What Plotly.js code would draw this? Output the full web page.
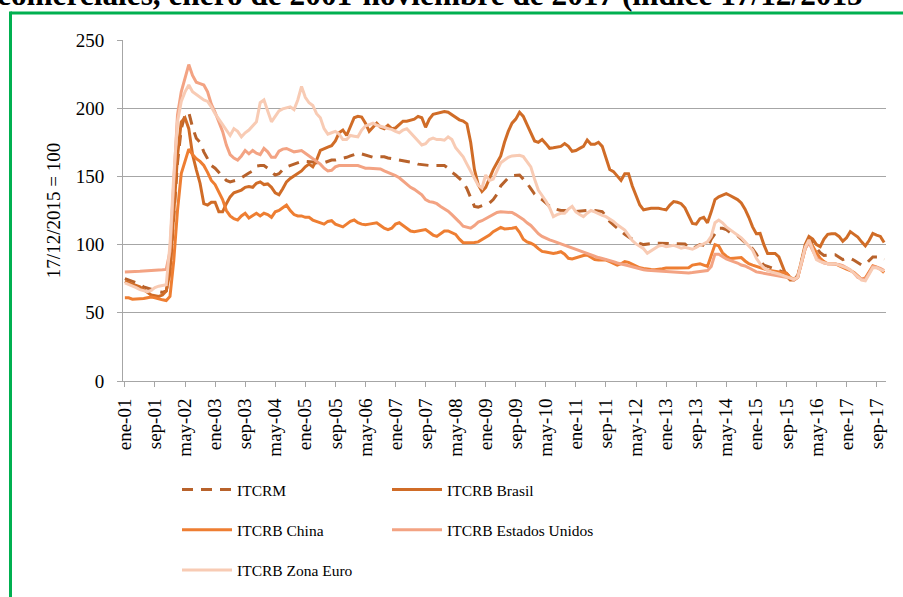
<!DOCTYPE html>
<html><head><meta charset="utf-8">
<script src="https://cdn.plot.ly/plotly-3.0.1.min.js"></script>
<style>html,body{margin:0;padding:0;background:#fff}#chart{width:903px;height:597px}</style>
</head><body><div id="chart"></div>
<script>
const monthNames = ['ene','feb','mar','abr','may','jun','jul','ago','sep','oct','nov','dic'];
const months = [];
for (let y = 1; y <= 17; y++) {
  for (let m = 0; m < 12; m++) {
    if (y === 17 && m > 10) break;
    months.push(monthNames[m] + '-' + String(y).padStart(2, '0'));
  }
}
const tickLabels = ['ene-01','sep-01','may-02','ene-03','sep-03','may-04','ene-05','sep-05','may-06','ene-07','sep-07','may-08','ene-09','sep-09','may-10','ene-11','sep-11','may-12','ene-13','sep-13','may-14','ene-15','sep-15','may-16','ene-17','sep-17'];

const itcrm = [
 75,74,73,72,71,69,68,67,66,65.5,65,66,
 80,120,160,185,195,197,186,178,175,168,163,158,
 156,153,150,147,146,146.5,147.5,149,151,152.5,154,157.5,
 158,158,156,153.5,151,152,155,157,158,159,160,161,
 161,161,160.5,160,159.5,160,161,162,162,162.5,163.4,164,
 165,166,167,166.5,165.5,164.5,164,164.5,164.4,164.4,163.5,163,
 162.5,162,161.5,161,160.6,160,159,158.5,158,158,158,158,
 158,158,156,153,151,148.5,146,141,135,128,127.5,128.5,
 129.5,130.5,133,137,143,146,149,150.5,151,151,148,145,
 141,137,134.5,133,130.5,128,126.5,125.5,125,125,124.5,124.5,
 124.2,124.5,125,125.4,125.4,125,124.5,124.2,121,117,114.4,112,
 109.5,107.5,105.5,104,102,100.9,100,100.5,100.9,101,101,100.9,
 100.9,101,101,100.9,100.9,100.5,98,97.3,98.5,100,99.5,98,
 104,108,112,112,111,109,107,106.5,104,101,99,97,
 93,88,85,84,83,82,81.5,80.5,79,76,75,77,
 87,98,104.7,101,97,94,92,92.5,92.5,92.5,91,89,
 90,90,88.5,87,85,85.5,88.5,91,91,91,89
];
const brasil = [
 73,72,71,70,69,67,65,63,62.5,62,63,66,
 80,125,165,190,193,185,166,155,145,130,129,131,
 131,124,124,130,135,138,139,140,142,142.5,142,145,
 146,144,144.5,142,138,136.5,141,146,148.5,150.5,152,154,
 157,159,157,162,169,170.5,171.5,172.5,176,182,184,180,
 186,193,194,193.5,189,183,186,189,186,185,187.5,185,
 185.5,188,190.5,190.5,191.5,192,194,193,186,192,195.5,196,
 196.5,197.5,197,195,193,191.5,190.5,188.5,175,155,144,139,
 142,149,155,160,165,175,183,189,192,197,194,188,
 182,176,175,177,174,170.6,171,171.5,172,174,172,168.4,
 169,170.5,172,176.7,173.5,173.5,175,172,163,155,153.5,150,
 147,152,152,143,136,129,125.5,126.3,126.6,126.6,126.6,126,
 125.5,129,131.5,131,130,127,121,115.5,115,119,120,116,
 124,133,135,136,137.4,136,134.5,133,130.5,126,120,113,
 108,108.2,100,93.5,93.5,93.5,91,84,77,74,74,76,
 88,100,106,104,100,98.5,104,107.5,108,108,106,102.5,
 105,109.5,107.5,105.5,102,99,103,108.2,107,106,101.5
];
const china = [
 61,61,60,60,60,60.5,61,61.5,61,60,59.5,59,
 62,88,125,152,161,170,166,163,161,158,153,147,
 144,139,133,125,121,119,118,121,123,119.5,121,123,
 121,123,122,120,124,125,127,129,125,122,121,121,
 120,120,118,117,115.5,115,117,117.5,115,114,113,115,
 117,118,116,115,114.5,115,115.5,116,114,112,111,112,
 115,116,114,112,110,109.5,110,111,111,109,107,106,
 108,110,110,108.5,107.5,104,101.4,101.4,101.4,101.5,102,103.5,
 105,107,109.5,111,112.6,111.5,111.5,112,112.6,109,104,102,
 101,99.5,97,95,94.5,94,93.5,94,94.8,93,90,89.5,
 90.5,91,92,92.4,91,89,88.7,88.7,88.7,87.5,86,85,
 86,87.5,87,85.5,84,83,82.5,82,81.8,81.6,81.8,82.3,
 82.8,83,82.8,82.8,83,82.8,83,85,85.5,86,85,84,
 92,100,99,94,91.5,89.8,90,90.5,90.5,88,86,85,
 84,83,82,81.3,80.8,80.3,80,79.5,79,76,74.5,76,
 86,97,103,99,94,90,87.5,86,86,86,84.5,83,
 82,81,79.5,77,74.5,75.5,80,84.5,83.5,82,79.5
];
const estadosUnidos = [
 80,80,80,80.3,80.5,80.7,81,81,81.2,81.4,81.5,81.8,
 95,150,195,212,222,232,224,219,218,217,212,203,
 197,190,183,173,166,163.4,162,165,169,166.6,169,167,
 166,170.5,168,164,164,168.5,170,170.5,169,168,168.5,169,
 167,165,163,161,159,156,154,154.5,157,158,158,157.5,
 157.5,158,158,157,156,156,156,156,155.5,154,153,151.5,
 150.5,149,146.5,144,142,140.5,138.5,136.5,133,131.5,131,130,
 128,126.5,124.5,122,119.5,116.5,113.5,112.5,112,114,116.5,117.5,
 119,120,122,123.5,124,124,123.5,123.5,122,120.5,118.5,116,
 114,111,108,106,104.5,103.4,102.5,101.5,100.5,99,98,97,
 96,95,94,93,92.3,91.3,90.5,89.8,89.2,88.5,87.5,86.5,
 86,85.3,84.5,83.8,83,82,81.6,81.2,81,80.7,80.4,80.2,
 80,79.8,79.6,79.5,79.4,79.3,79.2,79.5,80,80.3,80.5,81,
 84,93,93,91,89.5,88.5,87.6,86.5,85,84.3,83,81.5,
 80,79.5,79,78.5,78,77.5,77,76.8,76.5,75.5,74,76,
 86,97,101.5,96,90,88,86.5,86,86,86,85.5,84.5,
 83,81.4,79,76,75,74.5,79,84,83.5,82.6,81
];
const zonaEuro = [
 72,71,70,68.5,67,66,65.5,66.5,68.5,69.5,70,70.5,
 100,150,190,205,212,217,212,210,208,206,205,201,
 196,192,188,184,180,185,183,179,182,184,187,190,
 204,206,198,190,194,198,199.5,200,201,199,206,216,
 208,204,202,196,193,185,181,182,183,181,177,177,
 180,179.5,179,184,187,188,189,187.5,187,186,185,184.5,
 183,182,184,185,182,179,176,173,174,177,178,177,
 177,176.5,179,177,171,168,164.4,159,154,148,143.5,141.5,
 151,147,148,154,160,162,164,165,165.5,165.5,164.5,161,
 157,148,140,136,132,127,120.5,122,123,123,126,128,
 124,122,120.5,123,125,124,122.5,121.5,120.5,119,117,114.5,
 112.5,110.7,107,103,100.5,99,97,93.6,95.5,97,99,99.5,
 98.5,99,99.5,98.5,97.3,98,97.5,96.6,98,99.7,100.5,102,
 106,116,118,116,113,111,109,107,105,102,99,96,
 90,86,83,81,80,79.5,78.5,77.5,76.5,75.5,74.5,76,
 87,98,103.5,96,89,87.5,86.5,86,86,86,85,84,
 83,81.4,79,76,74,73.5,78,83,83,82,80.5
];

const seriesNames = ['ITCRM','ITCRB Brasil','ITCRB China','ITCRB Estados Unidos','ITCRB Zona Euro'];
const seriesData = [itcrm, brasil, china, estadosUnidos, zonaEuro];
const seriesColors = ['#B8622B','#D06C27','#EE7E32','#F3A383','#F8CBB4'];
const seriesLegend = ['legend','legend2','legend','legend2','legend'];

const traces = seriesData.map((d, i) => ({
  type: 'scatter', mode: 'lines', x: months, y: d, name: seriesNames[i],
  legend: seriesLegend[i], legendgroup: 'g' + i,
  line: {color: seriesColors[i], width: 3, dash: i === 0 ? '11px,8px' : 'solid'},
  hoverinfo: 'skip'
}));

const F = 'Liberation Serif';
function px2x(p){ return (p - 123) / 763; }
function py2y(p){ return (381 - p) / 341; }

const legendBase = {
  xanchor: 'left', yanchor: 'top', orientation: 'v',
  font: {size: 15.5, family: F, color: '#000'},
  bgcolor: 'rgba(0,0,0,0)', tracegroupgap: 17, itemwidth: 50, traceorder: 'grouped'
};

const layout = {
  width: 903, height: 597,
  margin: {l: 123, r: 17, t: 40, b: 216, autoexpand: false},
  paper_bgcolor: '#fff', plot_bgcolor: '#fff',
  font: {family: F, color: '#000'},
  showlegend: true,
  xaxis: {
    type: 'category', range: [-0.5, 202.5], tickmode: 'array',
    tickvals: tickLabels, ticktext: tickLabels, tickangle: -90,
    tickfont: {size: 19, family: F, color: '#000'},
    showgrid: false, showline: true, linecolor: '#A6A6A6', linewidth: 1,
    ticks: 'outside', ticklen: 5, tickcolor: '#A6A6A6', zeroline: false,
    ticklabelstandoff: 4
  },
  yaxis: {
    range: [0, 250], tick0: 0, dtick: 50,
    gridcolor: '#A6A6A6', gridwidth: 1, showline: true, linecolor: '#A6A6A6',
    ticks: 'outside', ticklen: 5, tickcolor: '#A6A6A6', zeroline: false,
    tickfont: {size: 19, family: F, color: '#000'},
    ticklabelstandoff: 9,
    title: {text: '17/12/2015 = 100', font: {size: 19, family: F, color: '#000'}, standoff: 10}
  },
  legend: Object.assign({}, legendBase, {x: px2x(177), y: py2y(473)}),
  legend2: Object.assign({}, legendBase, {x: px2x(387), y: py2y(473)}),
  annotations: [{
    text: '<b>comerciales, enero de 2001-noviembre de 2017 (índice 17/12/2015</b>',
    xref: 'paper', yref: 'paper', x: px2x(-5), y: py2y(-5), xanchor: 'left', yanchor: 'middle',
    showarrow: false, font: {size: 31.3, family: F, color: '#000'}
  }],
  shapes: [
    {type: 'line', xref: 'paper', yref: 'paper', x0: px2x(10.5), x1: px2x(910), y0: py2y(13), y1: py2y(13), line: {color: '#00B050', width: 3}},
    {type: 'line', xref: 'paper', yref: 'paper', x0: px2x(10.5), x1: px2x(10.5), y0: py2y(11.5), y1: py2y(610), line: {color: '#00B050', width: 3}}
  ]
};

Plotly.newPlot('chart', traces, layout, {displayModeBar: false, staticPlot: true});
</script>
</body></html>
